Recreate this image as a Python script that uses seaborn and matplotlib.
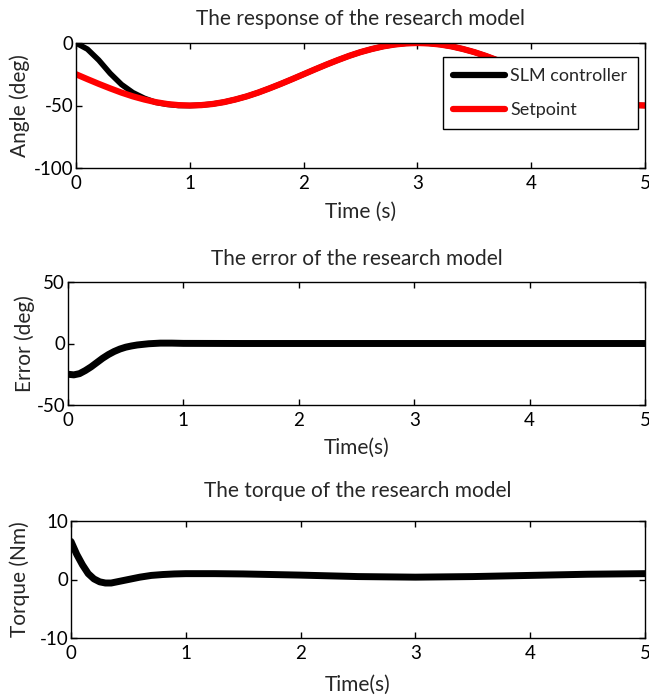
import numpy as np
import pandas as pd
import matplotlib
matplotlib.use("Agg")
import matplotlib.pyplot as plt
import seaborn as sns

# ---------------- data ----------------
time_grid = np.round(np.linspace(0, 5, 51), 2)

setpoint = [-25.0, -28.9, -32.7, -36.3, -39.7, -42.7, -45.2, -47.3, -48.8, -49.7,
            -50.0, -49.7, -48.8, -47.3, -45.2, -42.7, -39.7, -36.3, -32.7, -28.9,
            -25.0, -21.1, -17.3, -13.7, -10.3, -7.3, -4.8, -2.7, -1.2, -0.3,
            0.0, -0.3, -1.2, -2.7, -4.8, -7.3, -10.3, -13.7, -17.3, -21.1,
            -25.0, -28.9, -32.7, -36.3, -39.7, -42.7, -45.2, -47.3, -48.8, -49.7,
            -50.0]

slm_angle = [0.0, -4.9, -13.7, -24.3, -33.2, -39.7, -44.2, -47.5, -49.1, -50.0,
             -50.1, -49.7, -48.8, -47.3, -45.2, -42.7, -39.7, -36.3, -32.7, -28.9,
             -25.0, -21.1, -17.3, -13.7, -10.3, -7.3, -4.8, -2.7, -1.2, -0.3,
             0.0, -0.3, -1.2, -2.7, -4.8, -7.3, -10.3, -13.7, -17.3, -21.1,
             -25.0, -28.9, -32.7, -36.3, -39.7, -42.7, -45.2, -47.3, -48.8, -49.7,
             -50.0]

err_time = [0, 0.05, 0.1, 0.15, 0.2, 0.25, 0.3, 0.35, 0.4, 0.45, 0.5, 0.55, 0.6,
            0.7, 0.8, 0.9, 1.0, 1.5, 2.0, 2.5, 3.0, 3.5, 4.0, 4.5, 5.0]
error = [-25.0, -25.5, -24.5, -22.0, -19.0, -15.5, -12.0, -9.0, -6.5, -4.5, -3.0,
         -2.0, -1.2, -0.2, 0.3, 0.3, 0.1, 0.0, 0.0, 0.0, 0.0, 0.0, 0.0, 0.0, 0.0]

torque_time = [0, 0.05, 0.1, 0.15, 0.2, 0.25, 0.3, 0.35, 0.4, 0.5, 0.6, 0.7, 0.8,
               0.9, 1.0, 1.25, 1.5, 2.0, 2.5, 3.0, 3.5, 4.0, 4.5, 5.0]
torque = [6.5, 4.3, 2.5, 1.0, 0.1, -0.4, -0.6, -0.6, -0.4, 0.0, 0.4, 0.7, 0.85,
          0.95, 1.0, 1.0, 0.95, 0.75, 0.5, 0.4, 0.5, 0.7, 0.9, 1.0]

titles = ["The response of the research model",
          "The error of the research model",
          "The torque of the research model"]
ylabels = ["Angle (deg)", "Error (deg)", "Torque (Nm)"]
xlabels = ["Time (s)", "Time(s)", "Time(s)"]
yticks = [[-100, -50, 0], [-50, 0, 50], [-10, 0, 10]]
xticks = [0, 1, 2, 3, 4, 5]
legend_labels = ["SLM controller", "Setpoint"]

# ---------------- styling ----------------
sns.set_style("ticks")
plt.rcParams["font.family"] = ["Lato", "DejaVu Sans"]
FS_LABEL = 15
FS_TICK = 13.5
FS_LEG = 13

W, H = 649, 698
fig = plt.figure(figsize=(W / 100, H / 100), dpi=100)

# axes boxes in pixels: left, top, right, bottom
boxes = [(76, 43, 645, 168), (68, 282, 645, 405), (71, 521, 645, 638)]
# text centres in pixels: title y, xlabel y, ylabel x
title_y = [19, 259, 491]
xlabel_y = [212, 448, 685]
ylabel_x = [20, 25, 20]

axes = []
for (l, t, r, b) in boxes:
    axes.append(fig.add_axes([l / W, 1 - b / H, (r - l) / W, (b - t) / H]))
ax1, ax2, ax3 = axes

df1 = pd.DataFrame({"t": time_grid, "slm": slm_angle, "sp": setpoint})
sns.lineplot(data=df1, x="t", y="slm", ax=ax1, color="black", linewidth=4.0,
             estimator=None, sort=False, label=legend_labels[0])
sns.lineplot(data=df1, x="t", y="sp", ax=ax1, color="#ff0000", linewidth=4.5,
             estimator=None, sort=False, label=legend_labels[1])

sns.lineplot(x=err_time, y=error, ax=ax2, color="black", linewidth=5.0,
             estimator=None, sort=False)
sns.lineplot(x=torque_time, y=torque, ax=ax3, color="black", linewidth=5.0,
             estimator=None, sort=False)

for i, ax in enumerate(axes):
    l, t, r, b = boxes[i]
    ax.set_xlim(0, 5)
    ax.set_ylim(yticks[i][0], yticks[i][-1])
    ax.set_xticks(xticks)
    ax.set_yticks(yticks[i])
    ax.set_xticklabels([str(v) for v in xticks])
    ax.set_yticklabels([str(v) for v in yticks[i]])
    ax.tick_params(direction="in", length=4, width=1, top=True, right=True,
                   labelsize=FS_TICK, colors="black")
    ax.tick_params(axis="x", pad=5)
    ax.tick_params(axis="y", pad=2)
    for s in ax.spines.values():
        s.set_visible(True)
        s.set_linewidth(1.0)
        s.set_color("black")
    ax.set_title(titles[i], fontsize=FS_LABEL, va="center", pad=0,
                 y=(b - title_y[i]) / (b - t))
    ax.set_xlabel(xlabels[i], fontsize=FS_LABEL, va="center")
    ax.xaxis.set_label_coords(0.5, (b - xlabel_y[i]) / (b - t))
    ax.set_ylabel(ylabels[i], fontsize=FS_LABEL, va="center")
    ax.yaxis.set_label_coords((ylabel_x[i] - l) / (r - l), 0.5)

leg = ax1.legend(loc="upper right", bbox_to_anchor=(0.988, 0.888), borderaxespad=0,
                 fontsize=FS_LEG, frameon=True, fancybox=False, edgecolor="black",
                 framealpha=1, handlelength=2.85, handletextpad=0.3,
                 labelspacing=1.0, borderpad=0.6)
leg.get_frame().set_linewidth(1.0)
for line in leg.get_lines():
    line.set_linewidth(4.5)

fig.savefig("out.png", dpi=100)
